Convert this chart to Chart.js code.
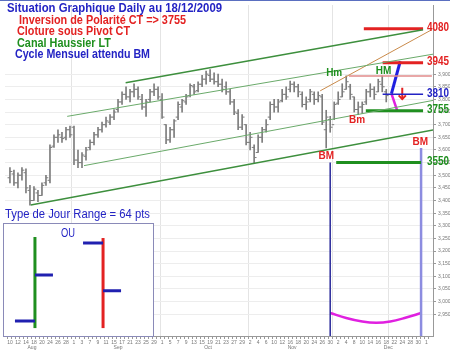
<!DOCTYPE html>
<html>
<head>
<meta charset="utf-8">
<script src="https://cdn.jsdelivr.net/npm/chart.js@4.4.0/dist/chart.umd.min.js"></script>
<style>
  html, body { margin: 0; padding: 0; background: #fff; }
  #wrap { width: 450px; height: 352px; position: relative; }
</style>
</head>
<body>
<div id="wrap"><canvas id="chart" width="450" height="352"></canvas></div>
<script>
// trading days shown on the x axis (Aug 10 2009 -> Jan 1 2010)
const augDays = [10, 11, 12, 13, 14, 17, 18, 19, 20, 21, 24, 25, 26, 27, 28, 31];
const sepDays = [1, 2, 3, 4, 7, 8, 9, 10, 11, 14, 15, 16, 17, 18, 21, 22, 23, 24, 25, 28, 29, 30];
const octDays = [1, 2, 5, 6, 7, 8, 9, 12, 13, 14, 15, 16, 19, 20, 21, 22, 23, 26, 27, 28, 29, 30];
const novDays = [2, 3, 4, 5, 6, 9, 10, 11, 12, 13, 16, 17, 18, 19, 20, 23, 24, 25, 26, 27, 30];
const decDays = [1, 2, 3, 4, 7, 8, 9, 10, 11, 14, 15, 16, 17, 18, 21, 22, 23, 24, 25, 28, 29, 30, 31];
const janDays = [1];
const days = [...augDays, ...sepDays, ...octDays, ...novDays, ...decDays, ...janDays];

const monthNames = ['Aug', 'Sep', 'Oct', 'Nov', 'Dec'];
const monthCenters = [5.5, 27, 49.5, 70.5, 94.5];
const gridDays = [16, 38, 60, 81, 95];

// daily bars, Aug 10 -> Dec 18 (one row per month)
const opens = [
  3490, 3505, 3470, 3500, 3510, 3440, 3400, 3430, 3420, 3470, 3480, 3615, 3650, 3650, 3650, 3680,
  3690, 3560, 3550, 3575, 3610, 3630, 3660, 3680, 3700, 3710, 3730, 3760, 3790, 3820, 3810, 3830, 3840, 3800, 3770, 3800, 3830, 3840,
  3800, 3700, 3640, 3680, 3730, 3770, 3790, 3815, 3850, 3835, 3860, 3880, 3895, 3880, 3870, 3860, 3850, 3830, 3790, 3745, 3690, 3700,
  3630, 3610, 3590, 3650, 3680, 3730, 3780, 3770, 3795, 3820, 3840, 3860, 3850, 3820, 3780, 3800, 3820, 3800, 3810, 3680, 3720,
  3700, 3785, 3810, 3840, 3850, 3810, 3760, 3770, 3790, 3830, 3840, 3830, 3860, 3830];
const highs = [
  3530, 3520, 3510, 3530, 3525, 3460, 3455, 3440, 3470, 3500, 3620, 3660, 3680, 3670, 3690, 3694,
  3694, 3600, 3590, 3610, 3640, 3670, 3690, 3710, 3730, 3740, 3760, 3800, 3830, 3850, 3840, 3862, 3850, 3820, 3800, 3840, 3862, 3850,
  3823, 3700, 3690, 3720, 3790, 3800, 3820, 3862, 3860, 3870, 3895, 3912, 3918, 3905, 3900, 3880, 3870, 3840, 3800, 3760, 3740, 3700,
  3670, 3620, 3660, 3690, 3720, 3790, 3800, 3800, 3840, 3850, 3873, 3870, 3860, 3830, 3810, 3840, 3830, 3830, 3820, 3757, 3733,
  3790, 3830, 3862, 3893, 3860, 3810, 3790, 3790, 3840, 3862, 3850, 3880, 3893, 3840];
const lows = [
  3470, 3460, 3450, 3480, 3430, 3382, 3400, 3395, 3420, 3460, 3470, 3610, 3630, 3630, 3640, 3650,
  3542, 3530, 3530, 3560, 3600, 3620, 3650, 3670, 3690, 3700, 3720, 3750, 3780, 3800, 3790, 3810, 3800, 3760, 3733, 3790, 3815, 3800,
  3725, 3625, 3630, 3650, 3720, 3750, 3780, 3810, 3820, 3830, 3850, 3860, 3870, 3860, 3850, 3830, 3820, 3780, 3740, 3680, 3680, 3620,
  3600, 3546, 3590, 3630, 3670, 3720, 3750, 3750, 3790, 3800, 3830, 3830, 3810, 3770, 3760, 3790, 3780, 3790, 3700, 3608, 3670,
  3720, 3780, 3810, 3840, 3800, 3750, 3740, 3745, 3780, 3810, 3800, 3830, 3830, 3790];
const closes = [
  3515, 3470, 3500, 3520, 3450, 3400, 3445, 3420, 3460, 3490, 3610, 3650, 3660, 3645, 3680, 3660,
  3560, 3550, 3580, 3600, 3630, 3660, 3680, 3700, 3715, 3730, 3750, 3790, 3820, 3810, 3830, 3840, 3810, 3770, 3790, 3830, 3840, 3810,
  3730, 3640, 3680, 3715, 3780, 3795, 3810, 3855, 3830, 3860, 3880, 3900, 3880, 3870, 3860, 3840, 3830, 3790, 3750, 3690, 3730, 3630,
  3650, 3570, 3650, 3680, 3700, 3780, 3770, 3790, 3820, 3810, 3860, 3850, 3830, 3780, 3790, 3830, 3800, 3815, 3710, 3730, 3690,
  3780, 3800, 3830, 3870, 3820, 3760, 3770, 3780, 3830, 3840, 3820, 3870, 3850, 3815];

// drawn analysis: [day index, price]
const channelTop = [[28.9, 3866], [103.2, 4076]];
const channelUpper = [[14.3, 3733], [105.7, 3979]];
const channelLower = [[18.5, 3538], [105.7, 3796]];
const channelBottom = [[5.2, 3382], [105.7, 3679]];
const hmSlope = [[77.5, 3834], [105.4, 4076]];
const hmLevel = [[84.7, 3893], [105.4, 3893]];
const levelLabels = ['4080', '3945', '3810', '3755', '3550'];
const levelPrices = [4080, 3945, 3820, 3755, 3550];
const levelFrom = [88.4, 93.1, 93.1, 88.9, 81.5];
const levelTo = [103.2, 103.2, 103.2, 103.2, 102.7];
const upPath = [[95.3, 3823], [97.5, 3951]];
const downPath = [[95.3, 3823], [96.8, 3753]];
const arrowShaft = [[98, 3846], [98, 3801]];
const arrowHead = [[97.1, 3816], [98, 3801], [98.9, 3816]];
const bmLeft = [[80, 3550], [80, 2800]];
const bmRight = [[102.7, 3608], [102.7, 2800]];
const cycleCurve = [[80, 2955], [84, 2935], [88, 2921], [91.5, 2916], [95, 2921], [99, 2937], [102.7, 2955]];
const pivotTexts = ['Hm', 'HM', 'Bm', 'BM', 'BM'];
const pivotAt = [[81, 3905], [93.3, 3912], [86.7, 3718], [79, 3577], [102.5, 3632]];

// inset "type de jour" glyphs, in box fractions: x, top, bottom, open, close
const insetBars = [[0.213, 0.124, 0.93, 0.867, 0.46], [0.667, 0.133, 0.93, 0.177, 0.60]];
const insetColors = ['#1f8f1f', '#e32222'];

const RED = '#e32222', GREEN = '#1f8f1f', BLUE = '#2323c4';
const yMin = 2864, yMax = 4173.5;

const pts = arr => arr.map(p => ({ x: p[0], y: p[1] }));
const seg = (data, color, width, extra = {}) => Object.assign({
  type: 'line', data: pts(data), borderColor: color, borderWidth: width,
  pointRadius: 0, fill: false, tension: 0
}, extra);

function drawFitText(ctx, text, x, y, width, size, color, bold = true, align = 'left') {
  ctx.save();
  ctx.font = (bold ? 'bold ' : '') + size + 'px "Liberation Sans", Arial, sans-serif';
  const w = ctx.measureText(text).width;
  const k = width / w;
  ctx.translate(align === 'right' ? x - width : x, y);
  ctx.scale(k, 1);
  ctx.fillStyle = color;
  ctx.textBaseline = 'middle';
  ctx.textAlign = 'left';
  ctx.fillText(text, 0, 0);
  ctx.restore();
}

const notes = {
  id: 'notes',
  afterDraw(chart) {
    const { ctx, scales: { x, y } } = chart;

    // month names under the day ticks
    ctx.save();
    ctx.font = '5px "Liberation Sans", Arial, sans-serif';
    ctx.fillStyle = '#777';
    ctx.textAlign = 'center';
    ctx.textBaseline = 'middle';
    monthNames.forEach((m, i) => ctx.fillText(m, x.getPixelForValue(monthCenters[i]), 348));
    ctx.restore();

    // header
    drawFitText(ctx, 'Situation Graphique Daily au 18/12/2009', 7, 8.5, 215, 12, BLUE);
    drawFitText(ctx, 'Inversion de Polarité CT => 3755', 19, 20.5, 167, 12, RED);
    drawFitText(ctx, 'Cloture sous Pivot CT', 17, 32, 113, 12, RED);
    drawFitText(ctx, 'Canal Haussier LT', 17, 44, 94, 12, GREEN);
    drawFitText(ctx, 'Cycle Mensuel attendu BM', 15, 55, 135, 12, BLUE);

    // level labels on the right edge
    const levelColors = [RED, RED, BLUE, GREEN, GREEN];
    levelLabels.forEach((t, i) => {
      drawFitText(ctx, t, 449, y.getPixelForValue(levelPrices[i]) - 1, 22, 12, levelColors[i], true, 'right');
    });

    // pivot tags
    const pivotColors = [GREEN, GREEN, RED, RED, RED];
    pivotTexts.forEach((t, i) => {
      ctx.save();
      ctx.font = 'bold 10px "Liberation Sans", Arial, sans-serif';
      ctx.fillStyle = pivotColors[i];
      ctx.textAlign = 'center';
      ctx.textBaseline = 'middle';
      ctx.fillText(t, x.getPixelForValue(pivotAt[i][0]), y.getPixelForValue(pivotAt[i][1]));
      ctx.restore();
    });

    // inset box
    const bx = 3, by = 223, bw = 150, bh = 113;
    drawFitText(ctx, 'Type de Jour Range = 64 pts', 5, 215, 145, 12, BLUE, false);
    ctx.save();
    ctx.fillStyle = '#fff';
    ctx.fillRect(bx, by, bw, bh);
    ctx.strokeStyle = '#8a8ab8';
    ctx.lineWidth = 1;
    ctx.strokeRect(bx + 0.5, by + 0.5, bw, bh);
    ctx.restore();
    drawFitText(ctx, 'OU', 61, 234, 14, 12, BLUE, false);
    insetBars.forEach((b, i) => {
      const px = bx + b[0] * bw;
      ctx.save();
      ctx.lineWidth = 3;
      ctx.strokeStyle = insetColors[i];
      ctx.beginPath();
      ctx.moveTo(px, by + b[1] * bh);
      ctx.lineTo(px, by + b[2] * bh);
      ctx.stroke();
      ctx.strokeStyle = '#2020b0';
      ctx.beginPath();
      ctx.moveTo(px - 20, by + b[3] * bh);
      ctx.lineTo(px, by + b[3] * bh);
      ctx.moveTo(px, by + b[4] * bh);
      ctx.lineTo(px + 18, by + b[4] * bh);
      ctx.stroke();
      ctx.restore();
    });

    // frame
    ctx.save();
    ctx.strokeStyle = '#5a6fc0';
    ctx.lineWidth = 1;
    ctx.beginPath();
    ctx.moveTo(0, 0.5);
    ctx.lineTo(450, 0.5);
    ctx.stroke();
    ctx.restore();
  }
};

const barIdx = highs.map((_, i) => i);

new Chart(document.getElementById('chart'), {
  type: 'bar',
  data: {
    datasets: [
      {
        type: 'bar', data: barIdx.map(i => ({ x: i, y: [lows[i], highs[i]] })),
        backgroundColor: '#7d7d7d', borderWidth: 0, barThickness: 1, order: 5
      },
      {
        type: 'scatter', data: barIdx.map(i => ({ x: i - 0.3, y: opens[i] })),
        pointStyle: 'line', radius: 1.2, borderColor: '#7d7d7d', borderWidth: 1, order: 5
      },
      {
        type: 'scatter', data: barIdx.map(i => ({ x: i + 0.3, y: closes[i] })),
        pointStyle: 'line', radius: 1.2, borderColor: '#7d7d7d', borderWidth: 1, order: 5
      },
      seg(channelTop, '#3d8f3d', 1.5),
      seg(channelUpper, '#6aaa6a', 1),
      seg(channelLower, '#6aaa6a', 1),
      seg(channelBottom, '#3d8f3d', 1.5),
      seg(hmSlope, '#c98a4a', 1),
      seg(hmLevel, '#e08a8a', 1.5),
      ...levelPrices.map((p, i) => seg([[levelFrom[i], p], [levelTo[i], p]],
        [RED, RED, BLUE, GREEN, GREEN][i], [3, 3, 1.5, 3, 3][i])),
      seg(upPath, '#2020e0', 3),
      seg(downPath, '#e020e0', 2.5),
      seg(arrowShaft, RED, 2),
      seg(arrowHead, RED, 2),
      seg(bmLeft, '#2a2a9a', 1.5),
      seg(bmRight, '#8c8ce0', 2.5),
      seg(cycleCurve, '#e020e0', 2.5, { tension: 0.4 })
    ]
  },
  options: {
    responsive: false,
    animation: false,
    layout: { padding: 0 },
    plugins: { legend: { display: false }, tooltip: { enabled: false } },
    scales: {
      x: {
        type: 'linear', min: -1.235, max: 105.68, offset: false,
        afterBuildTicks: s => { s.ticks = days.map((_, i) => ({ value: i })); },
        afterFit: s => { s.height = 16; },
        ticks: {
          autoSkip: false, maxRotation: 0, padding: 1,
          font: { size: 5 }, color: '#777',
          callback: (v, i) => (i % 2 === 0 ? String(days[i]) : '')
        },
        grid: {
          tickLength: 3, tickColor: '#999',
          color: c => (gridDays.includes(c.index) ? '#e4e4e4' : 'rgba(0,0,0,0)')
        },
        border: { color: '#999' }
      },
      y: {
        position: 'right', min: yMin, max: yMax,
        afterBuildTicks: s => {
          const t = [];
          for (let v = 2950; v <= 3900; v += 50) t.push({ value: v });
          s.ticks = t;
        },
        afterFit: s => { s.width = 17; },
        ticks: { font: { size: 5 }, color: '#777', padding: 2 },
        grid: { color: '#ededed', tickLength: 3, tickColor: '#999' },
        border: { color: '#999' }
      }
    }
  },
  plugins: [notes]
});
</script>
</body>
</html>
